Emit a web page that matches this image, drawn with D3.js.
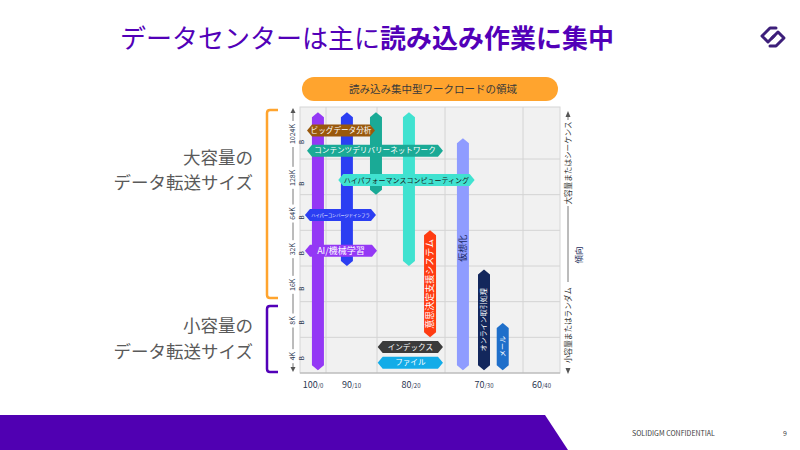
<!DOCTYPE html>
<html>
<head>
<meta charset="utf-8">
<script src="https://cdn.jsdelivr.net/npm/d3@7"></script>
<style>
  body { margin: 0; background: #fff; }
  svg { display: block; font-family: "Noto Sans CJK JP", "Noto Sans", sans-serif; }
</style>
</head>
<body>
<svg id="chart" width="800" height="450"></svg>
<script>
// x: read / write ratio (%)
const readTicks = [100, 90, 80, 70, 60];
const writeTicks = [0, 10, 20, 30, 40];
// y: transfer size, bottom to top (tick index 0..6)
const sizeTicks = ['4K', '8K', '16K', '32K', '64K', '128K', '1024K'];

// vertical workload bars: read %, size range as tick index
const barLabels = ['', '', '', '', '意思決定支援システム', '仮想化', 'オンライン取引処理', 'メール'];
const barRead = [98.1, 90.9, 85.2, 80.3, 77.2, 72.7, 70.0, 67.6];
const barLow = [-0.42, 2.5, 4.5, 2.5, 0.5, -0.42, -0.42, -0.42];
const barHigh = [6.4, 6.4, 6.4, 6.4, 3.5, 5.9, 2.4, 0.9];
const barTextAt = [null, null, null, null, null, 3.0, null, null];
const barColors = ['#9438f5', '#2b3ef2', '#1aaa96', '#40e2d0', '#ff3c12', '#8f9cff', '#13275c', '#1f6fca'];
const barTextColors = ['#fff', '#fff', '#fff', '#fff', '#fff', '#1c2a66', '#fff', '#fff'];

// horizontal workload tags: size (tick index), read % span
const tagNames = ['ビッグデータ分析', 'コンテンツデリバリーネットワーク', 'ハイパフォーマンスコンピューティング',
  'ハイパーコンバージドインフラ', 'AI/機械学習', 'インデックス', 'ファイル'];
const tagSize = [6.05, 5.66, 4.91, 3.93, 2.93, 0.23, -0.21];
const tagFrom = [102.3, 102.3, 92.6, 103.1, 103.1, 84.9, 84.9];
const tagTo = [85.4, 75.3, 71.2, 85.2, 85.0, 75.3, 75.3];
const tagColors = ['#9a590c', '#1aaa96', '#40e2d0', '#2b3ef2', '#9438f5', '#3b3b3b', '#13ace8'];
const tagTextColors = ['#fff', '#fff', '#1a1a1a', '#fff', '#fff', '#fff', '#fff'];

const svg = d3.select('#chart');

// 列幅が不均等なので区切りごとの折れ線スケール
const x = d3.scaleLinear()
    .domain([105, 95, 85, 75, 65, 55])
    .range([300, 326, 377, 445, 523, 560]);

const y = d3.scaleLinear()
    .domain([-0.5, 5.5, 6.5])
    .range([373, 159, 107]);

// title
const title = svg.append('text')
    .attr('x', 120)
    .attr('y', 48)
    .attr('font-size', 26)
    .attr('fill', '#5200b8');
title.append('tspan').text('データセンターは主に');
title.append('tspan').attr('font-weight', 'bold').text('読み込み作業に集中');

// logo
const logo = svg.append('g')
    .attr('fill', 'none')
    .attr('stroke', '#3d1f7a')
    .attr('stroke-width', 3)
    .attr('stroke-linejoin', 'round')
    .attr('stroke-linecap', 'round');
logo.append('path').attr('d', 'M776,28 L770,28 L762,36 L768,42 L774,36');
logo.append('path').attr('d', 'M770,46 L776,46 L784,38 L778,32 L772,38');

// banner
svg.append('rect')
    .attr('x', 302).attr('y', 77)
    .attr('width', 256).attr('height', 24)
    .attr('rx', 12)
    .attr('fill', '#ffa42e');
svg.append('text')
    .attr('x', 433).attr('y', 93)
    .attr('text-anchor', 'middle')
    .attr('font-size', 10.5)
    .attr('fill', '#3a3a3a')
    .text('読み込み集中型ワークロードの領域');

// left captions + brackets
const capColor = '#5a5a5a';
[['大容量の', 164], ['データ転送サイズ', 189], ['小容量の', 332], ['データ転送サイズ', 358]].forEach(d => {
  svg.append('text')
      .attr('x', 253).attr('y', d[1])
      .attr('text-anchor', 'end')
      .attr('font-size', 17.5)
      .attr('fill', capColor)
      .text(d[0]);
});
svg.append('path')
    .attr('d', 'M278,110 L270,110 Q267,110 267,113 L267,295 Q267,298 270,298 L278,298')
    .attr('fill', 'none').attr('stroke', '#ffa42e').attr('stroke-width', 2.5);
svg.append('path')
    .attr('d', 'M278,306 L270,306 Q267,306 267,309 L267,369 Q267,372 270,372 L278,372')
    .attr('fill', 'none').attr('stroke', '#5200b8').attr('stroke-width', 2.5);

// plot area
const plot = svg.append('g');
plot.append('rect')
    .attr('x', x(105)).attr('y', y(6.5))
    .attr('width', x(55) - x(105)).attr('height', y(-0.5) - y(6.5))
    .attr('fill', '#f1f1f1')
    .attr('stroke', '#d6d6d6');

plot.selectAll('.vgrid')
    .data([95, 85, 75, 65])
    .enter().append('line')
    .attr('x1', d => x(d)).attr('x2', d => x(d))
    .attr('y1', y(6.5)).attr('y2', y(-0.5))
    .attr('stroke', '#d4d4d4');

plot.selectAll('.hgrid')
    .data(d3.range(0.5, 6, 1))
    .enter().append('line')
    .attr('x1', x(105)).attr('x2', x(55))
    .attr('y1', d => y(d)).attr('y2', d => y(d))
    .attr('stroke', '#d4d4d4');

plot.append('line')
    .attr('x1', x(105)).attr('x2', x(55))
    .attr('y1', y(-0.5)).attr('y2', y(-0.5))
    .attr('stroke', '#b0b0b0');

// vertical bars
const bw = 12, tip = 5;
const barPath = (cx, top, bot) => {
  const h = bw / 2;
  return `M${cx - h},${top + tip} L${cx},${top} L${cx + h},${top + tip} L${cx + h},${bot - tip} L${cx},${bot} L${cx - h},${bot - tip} Z`;
};

const bars = plot.selectAll('.bar')
    .data(barRead)
    .enter().append('g');

bars.append('path')
    .attr('d', (d, i) => barPath(x(d), y(barHigh[i]), y(barLow[i])))
    .attr('fill', (d, i) => barColors[i]);

bars.append('text')
    .attr('transform', (d, i) => {
      const cy = barTextAt[i] != null ? y(barTextAt[i]) : (y(barHigh[i]) + y(barLow[i])) / 2;
      return `translate(${x(d)},${cy}) rotate(-90)`;
    })
    .attr('text-anchor', 'middle')
    .attr('dy', '0.35em')
    .attr('font-size', (d, i) => i === 4 ? 9 : i === 5 ? 9 : 7)
    .attr('fill', (d, i) => barTextColors[i])
    .text((d, i) => barLabels[i]);

// horizontal tags
const th = 12;
const tagPath = (x0, x1, cy) => {
  const h = th / 2;
  return `M${x0},${cy} L${x0 + tip},${cy - h} L${x1 - tip},${cy - h} L${x1},${cy} L${x1 - tip},${cy + h} L${x0 + tip},${cy + h} Z`;
};

const tags = plot.selectAll('.tag')
    .data(tagNames)
    .enter().append('g');

tags.append('path')
    .attr('d', (d, i) => tagPath(x(tagFrom[i]), x(tagTo[i]), y(tagSize[i])))
    .attr('fill', (d, i) => tagColors[i]);

tags.append('text')
    .attr('x', (d, i) => (x(tagFrom[i]) + x(tagTo[i])) / 2)
    .attr('y', (d, i) => y(tagSize[i]))
    .attr('dy', '0.36em')
    .attr('text-anchor', 'middle')
    .attr('font-size', (d, i) => i === 3 ? 4.2 : i === 4 ? 9 : i === 2 ? 7 : 7.6)
    .attr('fill', (d, i) => tagTextColors[i])
    .text(d => d);

// x labels
const xl = svg.selectAll('.xlab')
    .data(readTicks)
    .enter().append('text')
    .attr('x', d => x(d))
    .attr('y', 388)
    .attr('text-anchor', 'middle')
    .attr('fill', '#2a3550');
xl.append('tspan').attr('font-size', 9).text(d => d);
xl.append('tspan').attr('font-size', 6).text((d, i) => '/' + writeTicks[i]);

// left size axis
const axisColor = '#555';
const ax = 293;
svg.append('line')
    .attr('x1', ax).attr('x2', ax)
    .attr('y1', y(6.5) + 3).attr('y2', y(-0.5) - 3)
    .attr('stroke', axisColor).attr('stroke-width', 0.8);
svg.append('path').attr('d', `M${ax - 2.5},${y(6.5) + 6} L${ax},${y(6.5) + 1} L${ax + 2.5},${y(6.5) + 6} Z`).attr('fill', axisColor);
svg.append('path').attr('d', `M${ax - 2.5},${y(-0.5) - 6} L${ax},${y(-0.5) - 1} L${ax + 2.5},${y(-0.5) - 6} Z`).attr('fill', axisColor);

sizeTicks.forEach((s, i) => {
  const cy = y(i) + 1;
  const len = s.length * 4 + 2;
  svg.append('rect')
      .attr('x', ax - 4).attr('y', cy - len / 2 - 2)
      .attr('width', 8).attr('height', len + 4)
      .attr('fill', '#fff');
  svg.append('text')
      .attr('transform', `translate(${ax},${cy}) rotate(-90)`)
      .attr('text-anchor', 'middle')
      .attr('dy', '0.35em')
      .attr('font-size', 7)
      .attr('fill', '#2a3550')
      .text(s);
  svg.append('text')
      .attr('transform', `translate(${ax + 8.5},${cy + len / 2 - 3}) rotate(-90)`)
      .attr('text-anchor', 'middle')
      .attr('dy', '0.35em')
      .attr('font-size', 6)
      .attr('fill', '#2a3550')
      .text('B');
});

// right tendency axis
const rx = 568;
svg.append('line')
    .attr('x1', rx).attr('x2', rx)
    .attr('y1', 114).attr('y2', 370)
    .attr('stroke', axisColor).attr('stroke-width', 0.8);
svg.append('path').attr('d', `M${rx - 2.5},117 L${rx},111 L${rx + 2.5},117 Z`).attr('fill', axisColor);
svg.append('path').attr('d', `M${rx - 2.5},368 L${rx},374 L${rx + 2.5},368 Z`).attr('fill', axisColor);

[['大容量またはシーケンス', 163], ['小容量またはランダム', 325]].forEach(d => {
  svg.append('rect')
      .attr('x', rx - 5).attr('y', d[1] - 43)
      .attr('width', 10).attr('height', 86)
      .attr('fill', '#fff');
  svg.append('text')
      .attr('transform', `translate(${rx},${d[1]}) rotate(-90)`)
      .attr('text-anchor', 'middle')
      .attr('dy', '0.35em')
      .attr('font-size', 7.6)
      .attr('fill', '#333')
      .text(d[0]);
});
svg.append('text')
    .attr('transform', `translate(${rx + 11},255) rotate(-90)`)
    .attr('text-anchor', 'middle')
    .attr('dy', '0.35em')
    .attr('font-size', 8.5)
    .attr('fill', '#1f3060')
    .text('傾向');

// footer band
svg.append('path')
    .attr('d', 'M0,415 L545,415 L568,450 L0,450 Z')
    .attr('fill', '#5000b2');
svg.append('text')
    .attr('x', 632).attr('y', 436)
    .attr('font-size', 7)
    .attr('fill', '#404040')
    .text('SOLIDIGM CONFIDENTIAL');
svg.append('text')
    .attr('x', 783).attr('y', 436)
    .attr('font-size', 7)
    .attr('fill', '#404040')
    .text('9');
</script>
</body>
</html>
